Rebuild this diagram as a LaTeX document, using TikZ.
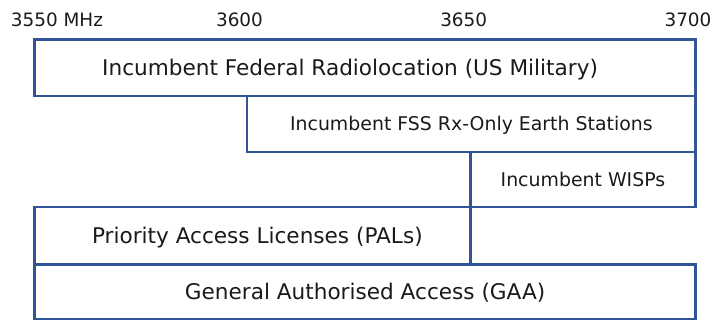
\documentclass[tikz,border=0pt]{standalone}
\usepackage{fontspec}
\setmainfont{DejaVu Sans}
\usepackage{tikz}
\usetikzlibrary{positioning}
\definecolor{edge}{HTML}{2F5597}
\definecolor{ink}{HTML}{1A1A1A}
\tikzset{
  band/.style={draw=edge,line width=2.6pt,inner sep=0pt,outer sep=0pt,anchor=north west,
    text=ink,text depth=0pt,align=center},
  big/.style={font=\fontsize{21.6}{25}\selectfont,text height=15.8pt},
  mid/.style={font=\fontsize{18.9}{22}\selectfont,text height=13.8pt},
  freq/.style={text=ink,inner sep=0pt,text height=13.4pt,text depth=0pt,
    font=\fontsize{18.4}{22}\selectfont},
}

\begin{document}
\begin{tikzpicture}[x=1pt,y=-1pt]
\useasboundingbox (0,0) rectangle (710,320);
% frequency marks
\node[freq] (f0) at (57,20) {3550 MHz};
\node[freq] (f1) at (239.5,20) {3600};
\node[freq] (f2) at (463.7,20) {3650};
\node[freq] (f3) at (688,20) {3700};
% tiers
\node[band,big,minimum width=661.2pt,minimum height=56.9pt] (fed) at (34.5,39.3) {\hspace*{-30pt}Incumbent Federal Radiolocation (US Military)};
\node[band,mid,minimum width=448.7pt,minimum height=55.8pt] (fss) at (247,96.2) {Incumbent FSS Rx-Only Earth Stations};
\node[band,mid,minimum width=225.5pt,minimum height=55.2pt] (wisp) at (470.2,152) {Incumbent WISPs};
\node[band,big,minimum width=435.7pt,minimum height=57.5pt] (pal) at (34.5,207.2) {\hspace*{10pt}Priority Access Licenses (PALs)};
\node[band,big,minimum width=661.2pt,minimum height=54.3pt] (gaa) at (34.5,264.7) {General Authorised Access (GAA)};
\end{tikzpicture}
\end{document}
